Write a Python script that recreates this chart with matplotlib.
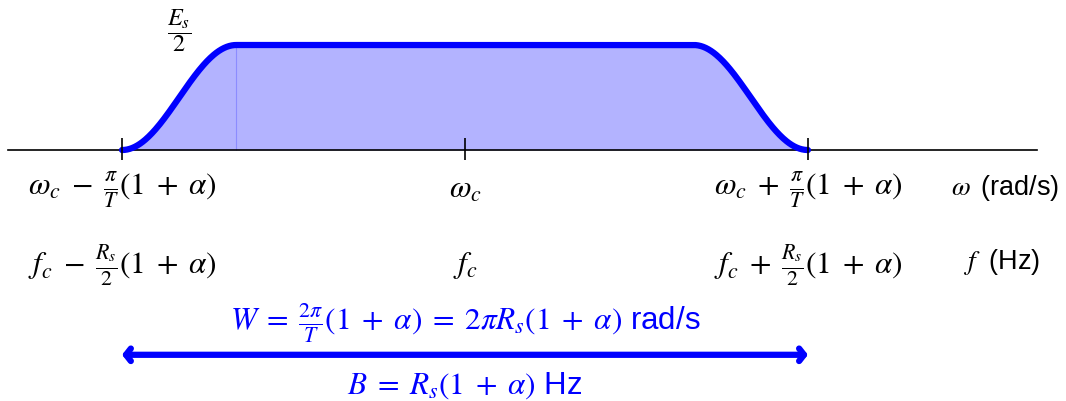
import numpy as np
import matplotlib.pyplot as plt

plt.rcParams['mathtext.fontset'] = 'stix'
plt.rcParams['font.family'] = ['Liberation Sans', 'DejaVu Sans']

# spectrum parameters (frequency in units of pi/T, centred on omega_c)
alpha = 0.2
peak = 1.0
tick_pos = [-(1 + alpha), 0.0, 1 + alpha]
omega_labels = [r'$\omega_c\;-\;\frac{\pi}{T}(1\;+\;\alpha)$', r'$\omega_c$',
                r'$\omega_c\;+\;\frac{\pi}{T}(1\;+\;\alpha)$']
f_labels = [r'$f_c\;-\;\frac{R_s}{2}(1\;+\;\alpha)$', r'$f_c$',
            r'$f_c\;+\;\frac{R_s}{2}(1\;+\;\alpha)$']

blue = '#0000ff'
fill_col = '#b3b3ff'

# raised cosine shape
x = np.linspace(-(1 + alpha), 1 + alpha, 801)
ax_ = np.abs(x)
y = np.where(ax_ <= 1 - alpha, peak,
             0.5 * peak * (1 + np.cos(np.pi * (ax_ - (1 - alpha)) / (2 * alpha))))

fig = plt.figure(figsize=(10.66, 4.01), dpi=100)
ax = fig.add_axes([0, 0, 1, 1])
ax.set_xlim(-1.627, 2.103)
ax.set_ylim(-2.390, 1.4286)
ax.axis('off')

ax.fill_between(x, 0, y, color=fill_col, lw=0, zorder=1)
ax.vlines(-(1 - alpha), 0, peak, color='#8c8cff', lw=0.8, zorder=1.5)
ax.plot([-1.6, 2.0], [0, 0], color='black', lw=1.2, zorder=2)
ax.plot(x, y, color=blue, lw=4.5, solid_capstyle='round', zorder=3)
ax.vlines(tick_pos, -0.095, 0.114, color='black', lw=1.2, zorder=4)

fs = 22.5
for xp, lab in zip(tick_pos, omega_labels):
    ax.text(xp, -0.38, lab, ha='center', va='center', fontsize=fs)
for xp, lab in zip(tick_pos, f_labels):
    ax.text(xp, -1.10, lab, ha='center', va='center', fontsize=fs)

ax.text(1.89, -0.36, r'$\omega\,$ (rad/s)', ha='center', va='center', fontsize=19.5)
ax.text(1.88, -1.07, r'$f\;$ (Hz)', ha='center', va='center', fontsize=19.5)
ax.text(-1.0, 1.14, r'$\dfrac{E_s}{2}$', ha='center', va='center', fontsize=17.5)

# bandwidth arrow
ax.annotate('', xy=(1 + alpha, -1.95), xytext=(-(1 + alpha), -1.95),
            arrowprops=dict(arrowstyle='<->,head_length=0.35,head_width=0.45',
                            color=blue, lw=4.5, shrinkA=0, shrinkB=0))
ax.text(0, -1.65,
        r'$W\;=\;\frac{2\pi}{T}(1\;+\;\alpha)\;=\;2\pi R_s(1\;+\;\alpha)$ rad/s',
        ha='center', va='center', fontsize=fs, color=blue)
ax.text(0, -2.24, r'$B\;=\;R_s(1\;+\;\alpha)$ Hz', ha='center', va='center',
        fontsize=fs, color=blue)

fig.savefig('out.png', dpi=100)
